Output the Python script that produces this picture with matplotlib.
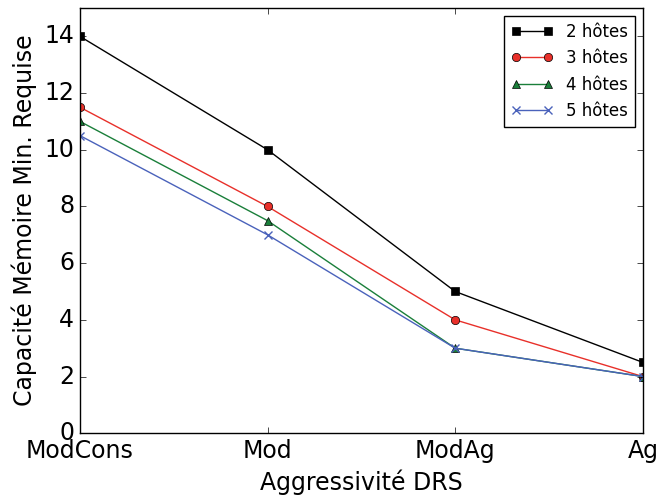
import matplotlib
matplotlib.use("Agg")
import matplotlib.pyplot as plt

plt.style.use("classic")

categories = ["ModCons", "Mod", "ModAg", "Ag"]
series_labels = ["2 hôtes", "3 hôtes", "4 hôtes", "5 hôtes"]
h2 = [14, 10, 5, 2.5]
h3 = [11.5, 8, 4, 2]
h4 = [11, 7.5, 3, 2]
h5 = [10.5, 7, 3, 2]
yticks = [0, 2, 4, 6, 8, 10, 12, 14]

fig = plt.figure(figsize=(6.6, 4.98), dpi=100)
ax = fig.add_axes([0.121, 0.13, 0.853, 0.854])
x = list(range(len(categories)))
styles = [("k", "s", "#000000"), ("r", "o", "#e8302a"), ("g", "^", "#1a7f3a"), ("b", "x", "#4a62bb")]
for vals, lab, (c, m, col) in zip([h2, h3, h4, h5], series_labels, styles):
    ax.plot(x, vals, marker=m, color=col, markerfacecolor=col, markeredgecolor=col if m == "x" else "k",
            markeredgewidth=0.5 if m != "x" else 1.0, markersize=6, linewidth=1.0, label=lab)

ax.set_xlim(0, 3)
ax.set_ylim(0, 15)
ax.set_xticks(x)
ax.set_xticklabels(categories, fontsize=17)
ax.set_yticks(yticks)
ax.tick_params(axis="y", labelsize=17)
ax.set_xlabel("Aggressivité DRS", fontsize=17)
ax.set_ylabel("Capacité Mémoire Min. Requise", fontsize=17)
ax.legend(loc="upper right", fontsize=12, numpoints=2, handlelength=2.5)
fig.savefig("out.png", dpi=100)
